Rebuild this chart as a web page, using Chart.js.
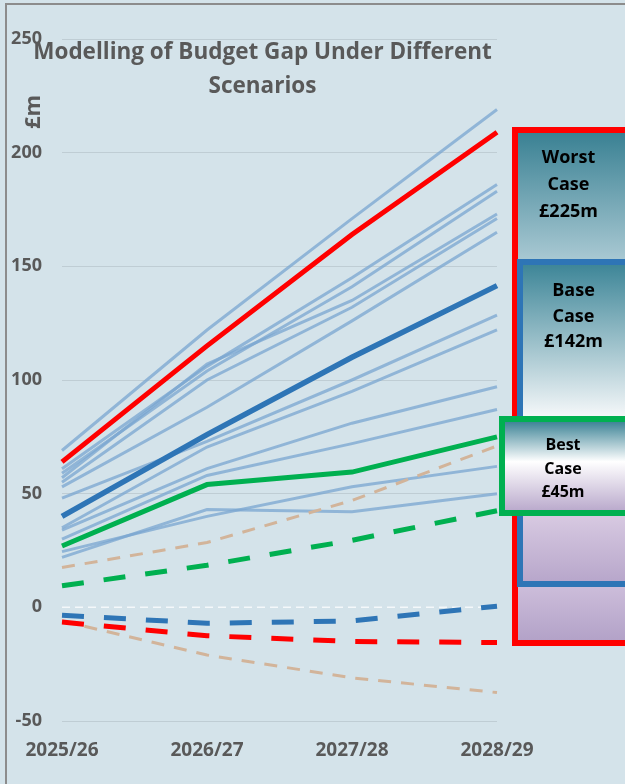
<!DOCTYPE html>
<html><head><meta charset="utf-8">
<script src="https://cdn.jsdelivr.net/npm/chart.js@4.4.1/dist/chart.umd.min.js"></script>
<style>
html,body{margin:0;padding:0;background:#D4E3EA;width:625px;height:784px;overflow:hidden;font-family:"Open Sans",sans-serif;}
#wrap{position:relative;width:625px;height:784px;overflow:hidden;}
#frame{position:absolute;left:5px;top:3px;width:700px;height:900px;border-left:2px solid #8c8c8c;border-top:2px solid #8c8c8c;}
#c{position:absolute;left:0;top:0;}
.t{position:absolute;color:#595959;font-weight:700;text-align:center;white-space:nowrap;}
.box{position:absolute;box-sizing:border-box;}
.bt{position:absolute;color:#000;font-weight:700;text-align:center;white-space:nowrap;}
</style></head>
<body><div id="wrap">
<div id="frame"></div>
<canvas id="c" width="625" height="784"></canvas>
<div class="t" id="title" style="left:0;width:525px;top:34px;font-size:22.5px;line-height:34px;">Modelling of Budget Gap Under Different<br>Scenarios</div>
<div class="t" style="left:11px;top:98px;font-size:22px;width:40px;line-height:28px;transform:rotate(-90deg);">£m</div>

<div class="box" style="left:512px;top:127px;width:120px;height:519px;border:6px solid #FF0000;background:linear-gradient(to bottom,#3A8193 0px,#A8C8D2 126px,#CCBDDA 454px,#B3A2C8 507px);"></div>
<div class="box" style="left:517px;top:259px;width:120px;height:328px;border:6px solid #2E75B6;background:linear-gradient(to bottom,#3E8698 0px,#F4F7F9 151px,#D7C9E1 251px,#B8A7CB 316px);"></div>
<div class="box" style="left:499px;top:416px;width:132px;height:100px;border:6px solid #00B050;background:linear-gradient(to bottom,#3F8597 0%,#FFFFFF 45%,#BBABCD 100%);"></div>

<div class="bt" style="left:518px;width:101px;top:143px;font-size:18px;line-height:27px;">Worst<br>Case<br>£225m</div>
<div class="bt" style="left:523px;width:101px;top:277px;font-size:18px;line-height:25.5px;">Base<br>Case<br>£142m</div>
<div class="bt" style="left:505px;width:116px;top:433px;font-size:16px;line-height:23.5px;">Best<br>Case<br>£45m</div>
</div>
<script>
const categories = ['2025/26','2026/27','2027/28','2028/29'];
const yTicks = [-50,0,50,100,150,200,250];

// main scenarios
const worstCase   = [64, 115, 164, 209];
const baseCase    = [40, 76, 110, 141.5];
const bestCase    = [27, 54, 59.5, 75];
const worstDashed = [-6.5, -12.5, -15, -15.5];
const baseDashed  = [-3.5, -7, -6, 0.5];
const bestDashed  = [9.5, 18.5, 29.5, 42.5];
const upperBound  = [17.5, 28.5, 47, 71];
const lowerBound  = [-6, -21, -31, -37.5];
const zeroLine    = [0, 0, 0, 0];

// individual modelled scenarios (thin lines)
const run1  = [69, 122, 171, 219];
const run2  = [61, 106, 145, 186];
const run3  = [59, 104, 141, 183];
const run4  = [57, 107, 135, 173];
const run5  = [55, 100, 132, 171];
const run6  = [53, 88, 126, 165];
const run7  = [48, 73, 100, 128.5];
const run8  = [35, 70.5, 95, 122];
const run9  = [34, 61, 81, 97];
const run10 = [30, 58, 72, 87];
const run11 = [24.5, 40, 53, 62];
const run12 = [22, 43, 42, 50];
const runs = [run1,run2,run3,run4,run5,run6,run7,run8,run9,run10,run11,run12];

const datasets = [];
runs.forEach((r,i)=>datasets.push({label:'Run '+(i+1),data:r,borderColor:'rgba(122,166,208,0.75)',borderWidth:3,order:20}));
datasets.push({label:'Zero',data:zeroLine,borderColor:'rgba(255,255,255,0.75)',borderWidth:1.5,borderDash:[8,5],order:15});
datasets.push({label:'Upper',data:upperBound,borderColor:'#D2B49A',borderWidth:3,borderDash:[13,10],order:12});
datasets.push({label:'Lower',data:lowerBound,borderColor:'#D2B49A',borderWidth:3,borderDash:[13,10],order:12});
datasets.push({label:'Best dashed',data:bestDashed,borderColor:'#00B050',borderWidth:5,borderDash:[22,20],order:5});
datasets.push({label:'Base dashed',data:baseDashed,borderColor:'#2E75B6',borderWidth:5,borderDash:[22,20],order:5});
datasets.push({label:'Worst dashed',data:worstDashed,borderColor:'#FF0000',borderWidth:5,borderDash:[22,20],order:5});
datasets.push({label:'Best',data:bestCase,borderColor:'#00B050',borderWidth:5,order:1});
datasets.push({label:'Base',data:baseCase,borderColor:'#2E75B6',borderWidth:5.5,order:1});
datasets.push({label:'Worst',data:worstCase,borderColor:'#FF0000',borderWidth:5,order:1});

new Chart(document.getElementById('c'),{
  type:'line',
  data:{labels:categories,datasets:datasets},
  options:{
    responsive:false,animation:false,
    layout:{padding:{left:0,right:128,top:39,bottom:0}},
    elements:{point:{radius:0},line:{tension:0,borderCapStyle:'butt'}},
    plugins:{legend:{display:false},tooltip:{enabled:false},title:{display:false}},
    scales:{
      x:{offset:false,grid:{display:false},border:{display:false},
         ticks:{color:'#595959',font:{family:'Open Sans',size:19,weight:'bold'},padding:10,maxRotation:0},
         afterFit:s=>{s.height=63;}},
      y:{min:-50,max:250,grid:{color:c=>c.tick&&c.tick.value===0?'rgba(0,0,0,0)':'#BFCDD4',lineWidth:1,drawTicks:false},border:{display:false},
         afterBuildTicks:s=>{s.ticks=yTicks.map(v=>({value:v}));},
         ticks:{color:'#595959',font:{family:'Open Sans',size:18,weight:'bold'},padding:20},
         afterFit:s=>{s.width=62;}}
    }
  }
});
</script>
</body></html>
